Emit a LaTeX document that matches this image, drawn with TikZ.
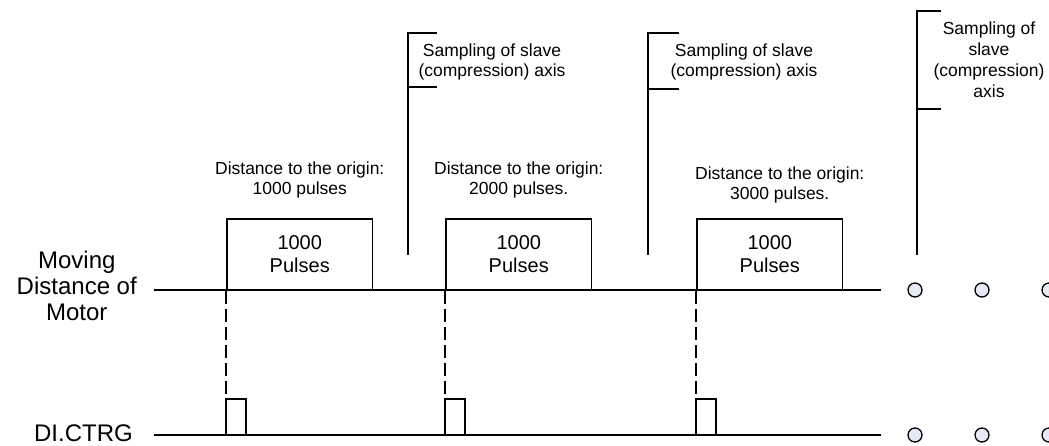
\documentclass[tikz,border=0pt]{standalone}
\usepackage{fontspec}
\setmainfont{Liberation Sans}
\usetikzlibrary{positioning}
\definecolor{dotfill}{HTML}{E4EAF6}
\tikzset{
  sig/.style={
    line width=1.6pt
  },
  pulsebox/.style={
    rectangle,
    draw,
    line width=1.6pt,
    minimum width=145.5pt,
    minimum height=71pt,
    inner sep=0pt,
    align=center,
    font=\fontsize{20}{23}\selectfont
  },
  note/.style={
    align=center,
    inner sep=0pt,
    font=\fontsize{17.5}{20}\selectfont
  },
  signame/.style={
    align=center,
    inner sep=0pt,
    font=\fontsize{24}{26}\selectfont
  },
  dashline/.style={
    line width=1.5pt,
    dash pattern=on 13pt off 5pt
  },
  dot/.style={
    circle,
    draw,
    line width=1.3pt,
    fill=dotfill,
    minimum size=14pt,
    inner sep=0pt
  }
}

\begin{document}
\begin{tikzpicture}[x=1pt, y=-1pt]
\useasboundingbox (0,0) rectangle (1049,446);

% signal lines
\coordinate (motorL) at (154,290);
\coordinate (motorR) at (881,290);
\coordinate (diL) at (154,435);
\coordinate (diR) at (881,435);
\draw[sig] (motorL) -- (motorR);
\draw[sig] (diL) -- (diR);

\node[signame, left=17pt of motorL, yshift=4.5pt] (motor) {Moving\\Distance of\\Motor};
\node[signame, left=21pt of diL, yshift=2pt] (ctrg) {DI.CTRG};

% pulse blocks
\node[pulsebox] (box1) at (299.75,254.5) {1000\\Pulses};
\node[pulsebox] (box2) at (518.75,254.5) {1000\\Pulses};
\node[pulsebox] (box3) at (769.75,254.5) {1000\\Pulses};

\node[note, above=20pt of box1] (dist1) {Distance to the origin:\\1000 pulses};
\node[note, above=20pt of box2] (dist2) {Distance to the origin:\\2000 pulses.};
\node[note, above=15pt of box3, xshift=10pt] (dist3) {Distance to the origin:\\3000 pulses.};

% trigger pulses
\foreach \b in {box1,box2,box3} {
  \draw[dashline] (\b.south west) -- ++(0,109);
  \draw[sig] (\b.south west |- diL) -- ++(0,-36) -- ++(20,0) -- ++(0,36);
}

% sampling marks
\foreach \n/\x/\t/\u/\w in {1/408/33/87/29, 2/648/33/89/31, 3/917/11/109/24} {
  \coordinate (samp\n) at (\x,255);
  \coordinate (samptop\n) at (\x,\t);
  \coordinate (sampmid\n) at (\x,\u);
  \draw[sig] (samp\n) -- (samptop\n) -- ++(\w,0);
  \draw[sig] (sampmid\n) -- ++(\w,0);
}
\node[note] (samptxt1) at (492,62) {Sampling of slave\\(compression) axis};
\node[note] (samptxt2) at (744,62) {Sampling of slave\\(compression) axis};
\node[note, font=\fontsize{17.5}{21}\selectfont] (samptxt3) at (989,60) {Sampling of\\slave\\(compression)\\axis};

% continuation dots
\foreach \x [count=\i] in {915,982,1049} {
  \node[dot] (mdot\i) at (\x,290) {};
  \node[dot] (ddot\i) at (\x,435) {};
}
\end{tikzpicture}
\end{document}
